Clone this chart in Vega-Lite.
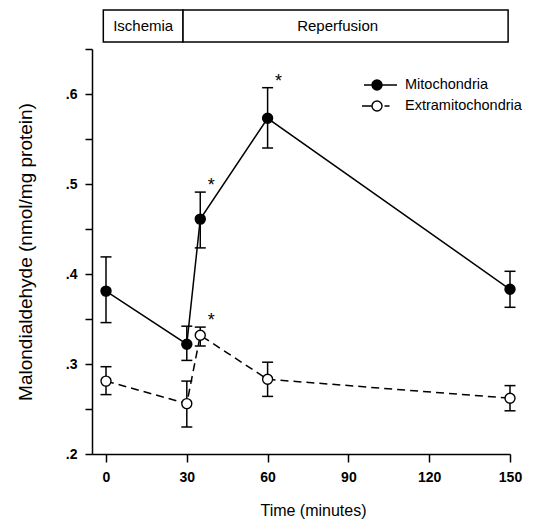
{
  "$schema": "https://vega.github.io/schema/vega-lite/v6.json",
  "background": "white",
  "padding": {"left": 16, "top": 9, "right": 5, "bottom": 5},
  "bounds": "flush",
  "spacing": 7,
  "config": {"view": {"stroke": null}, "font": "Liberation Sans"},
  "vconcat": [
    {
      "width": 418,
      "height": 32,
      "data": {"values": [
        {"phase": "Ischemia", "start": -1, "end": 28.6, "label_at": 13.8},
        {"phase": "Reperfusion", "start": 28.6, "end": 149.3, "label_at": 86}
      ]},
      "layer": [
        {
          "mark": {"type": "rect", "fill": "white", "stroke": "black", "strokeWidth": 1.5},
          "encoding": {
            "x": {"field": "start", "type": "quantitative", "scale": {"domain": [-5.2, 150], "nice": false, "zero": false}, "axis": null},
            "x2": {"field": "end"}
          }
        },
        {
          "mark": {"type": "text", "fontSize": 15, "color": "black", "font": "Liberation Sans"},
          "encoding": {
            "x": {"field": "label_at", "type": "quantitative"},
            "text": {"field": "phase"}
          }
        }
      ]
    },
    {
      "width": 418,
      "height": 405,
      "data": {"values": [
        {"time": 0, "series": "Mitochondria", "value": 0.381, "lo": 0.346, "hi": 0.419, "sig": false},
        {"time": 30, "series": "Mitochondria", "value": 0.322, "lo": 0.304, "hi": 0.342, "sig": false},
        {"time": 35, "series": "Mitochondria", "value": 0.461, "lo": 0.429, "hi": 0.491, "sig": true},
        {"time": 60, "series": "Mitochondria", "value": 0.573, "lo": 0.540, "hi": 0.607, "sig": true},
        {"time": 150, "series": "Mitochondria", "value": 0.383, "lo": 0.363, "hi": 0.403, "sig": false},
        {"time": 0, "series": "Extramitochondria", "value": 0.281, "lo": 0.266, "hi": 0.297, "sig": false},
        {"time": 30, "series": "Extramitochondria", "value": 0.256, "lo": 0.230, "hi": 0.281, "sig": false},
        {"time": 35, "series": "Extramitochondria", "value": 0.332, "lo": 0.320, "hi": 0.341, "sig": true},
        {"time": 60, "series": "Extramitochondria", "value": 0.283, "lo": 0.264, "hi": 0.302, "sig": false},
        {"time": 150, "series": "Extramitochondria", "value": 0.262, "lo": 0.248, "hi": 0.276, "sig": false}
      ]},
      "encoding": {
        "x": {
          "field": "time", "type": "quantitative",
          "scale": {"domain": [-5.2, 150], "nice": false, "zero": false},
          "axis": {
            "values": [0, 30, 60, 90, 120, 150],
            "title": "Time  (minutes)",
            "titleFontSize": 16, "titleFontWeight": "normal", "titleColor": "black", "titlePadding": 18, "titleX": 221,
            "tickSize": 8, "tickColor": "black", "tickWidth": 1.5,
            "labelPadding": 8, "labelFontSize": 14, "labelFontWeight": "bold", "labelColor": "black", "labelFlush": false,
            "domainColor": "black", "domainWidth": 1.5, "grid": false
          }
        },
        "y": {
          "field": "value", "type": "quantitative",
          "scale": {"domain": [0.2, 0.65], "nice": false, "zero": false},
          "axis": {
            "values": [0.2, 0.25, 0.3, 0.35, 0.4, 0.45, 0.5, 0.55, 0.6, 0.65],
            "labelExpr": "round(datum.value*20) % 2 == 0 ? replace(format(datum.value, '.1f'), '0.', '.') : ''",
            "title": "Malondialdehyde  (nmol/mg protein)",
            "titleFontSize": 19, "titleFontWeight": "normal", "titleColor": "black", "titlePadding": 30,
            "tickSize": 7, "tickColor": "black", "tickWidth": 1.5,
            "labelPadding": 8, "labelFontSize": 14, "labelFontWeight": "bold", "labelColor": "black", "labelFlush": false,
            "domainColor": "black", "domainWidth": 1.5, "grid": false,
            "encode": {"ticks": {"update": {"x2": {"signal": "round(datum.value*20) % 2 == 0 ? -7 : -4"}}}}
          }
        }
      },
      "layer": [
        {
          "mark": {"type": "rule", "color": "black", "strokeWidth": 1.5},
          "encoding": {
            "y": {"field": "lo", "type": "quantitative"},
            "y2": {"field": "hi"}
          }
        },
        {
          "mark": {"type": "tick", "orient": "horizontal", "size": 11, "thickness": 1.5, "color": "black", "opacity": 1},
          "encoding": {"y": {"field": "lo", "type": "quantitative"}}
        },
        {
          "mark": {"type": "tick", "orient": "horizontal", "size": 11, "thickness": 1.5, "color": "black", "opacity": 1},
          "encoding": {"y": {"field": "hi", "type": "quantitative"}}
        },
        {
          "transform": [{"filter": "datum.series === 'Mitochondria'"}],
          "mark": {"type": "line", "color": "black", "strokeWidth": 1.5},
          "encoding": {}
        },
        {
          "transform": [{"filter": "datum.series === 'Extramitochondria'"}],
          "mark": {"type": "line", "color": "black", "strokeWidth": 1.5, "strokeDash": [8, 5]},
          "encoding": {}
        },
        {
          "mark": {"type": "point", "shape": "circle", "size": 100, "filled": true, "stroke": "black", "strokeWidth": 1.4, "opacity": 1},
          "encoding": {
            "fill": {
              "field": "series", "type": "nominal",
              "scale": {"domain": ["Mitochondria", "Extramitochondria"], "range": ["black", "white"]},
              "legend": {
                "orient": "none", "legendX": 274, "legendY": 64, "title": null, "padding": 0,
                "symbolSize": 400, "labelOffset": 17, "labelFontSize": 14.5, "labelColor": "black", "labelFont": "Liberation Sans",
                "rowPadding": 2, "symbolStrokeWidth": 1.4, "symbolStrokeColor": "black", "symbolOpacity": 1,
                "encode": {"symbols": {"update": {
                  "shape": {"signal": "datum.value === 'Mitochondria' ? 'M-1.3,0L-0.5,0M0.5,0L2.0,0M-0.5,0A0.5,0.5,0,1,1,0.5,0A0.5,0.5,0,1,1,-0.5,0Z' : 'M-1.5,0L-0.5,0M0.75,0L1.25,0M-0.5,0A0.5,0.5,0,1,1,0.5,0A0.5,0.5,0,1,1,-0.5,0Z'"},
                  "stroke": {"value": "black"},
                  "strokeWidth": {"value": 1.4},
                  "size": {"value": 400}
                }}}
              }
            }
          }
        },
        {
          "transform": [{"filter": "datum.sig"}],
          "mark": {"type": "text", "text": "*", "fontSize": 18, "dx": 11, "dy": -6, "color": "black"},
          "encoding": {"y": {"field": "hi", "type": "quantitative"}}
        }
      ]
    }
  ]
}
